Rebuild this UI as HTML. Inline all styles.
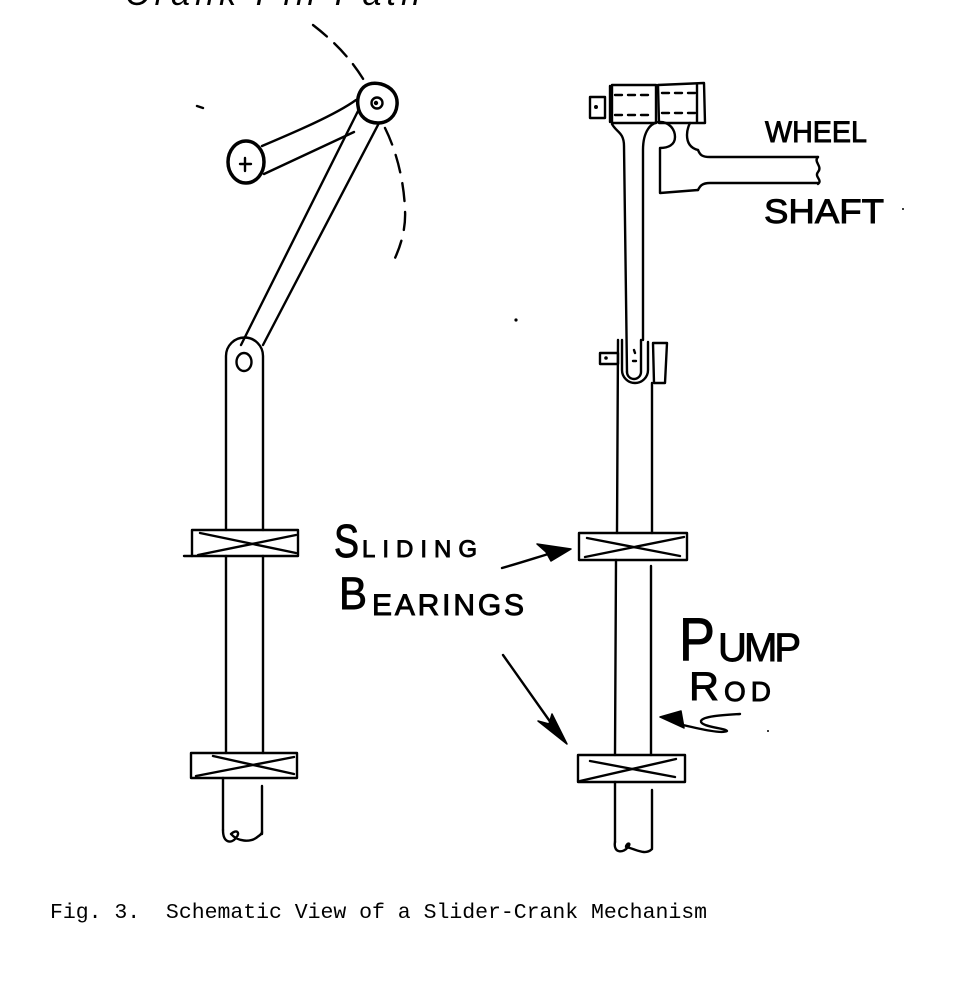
<!DOCTYPE html>
<html>
<head>
<meta charset="utf-8">
<style>
  html, body { margin: 0; padding: 0; background: #fff; }
  body { width: 974px; height: 994px; overflow: hidden; }
  svg { display: block; }
  .ink { fill: none; stroke: #000; stroke-width: 2.4; stroke-linecap: round; stroke-linejoin: round; }
  .thick { fill: none; stroke: #000; stroke-width: 3.5; stroke-linecap: round; stroke-linejoin: round; }
  .hand { font-family: "Liberation Sans", sans-serif; fill: #000; stroke: #000; stroke-width: 0.9; }
</style>
</head>
<body>
<svg width="974" height="994" viewBox="0 0 974 994" xmlns="http://www.w3.org/2000/svg">

  <!-- clipped handwritten label at top -->
  <text x="125" y="5" font-family="'Liberation Sans', sans-serif" font-size="34" font-style="italic" textLength="295" lengthAdjust="spacing" fill="#000">Crank Pin Path</text>

  <!-- ============ LEFT VIEW ============ -->
  <path class="ink" stroke-width="2.5" stroke-dasharray="18,10" d="M313,25 C335,42 352,60 365,82"/>
  <path class="ink" stroke-width="2.5" stroke-dasharray="18,11" d="M385,128 C396,150 404,180 405,210 C406,228 401,245 395,258"/>

  <path class="ink" stroke-width="2.5" d="M197,106 L203,108"/>

  <!-- crank disk -->
  <ellipse class="thick" cx="246" cy="162" rx="18" ry="21"/>
  <path class="ink" stroke-width="2" d="M240,164 L251,164 M245,158 L245,171"/>

  <!-- crank arm -->
  <path class="ink" d="M262,146 C295,132 335,115 356,100"/>
  <path class="ink" d="M264,174 C298,158 330,143 354,132"/>

  <!-- crank pin -->
  <path class="thick" d="M360,92 C364,84 372,82 381,84 C392,87 398,95 397,105 C396,116 388,123 378,123 C367,123 359,116 358,106 C357,100 358,96 360,92 Z"/>
  <circle class="ink" cx="377" cy="103" r="5.5"/>
  <circle cx="376" cy="103" r="2.2" fill="#000"/>

  <!-- connecting rod -->
  <path class="ink" d="M358,111 L241,345"/>
  <path class="ink" d="M379,123 L263,345"/>

  <!-- pump rod top with hole -->
  <path class="ink" d="M226,530 L226,356 A18.5,18.5 0 0 1 263,356 L263,530"/>
  <ellipse class="ink" cx="244" cy="362" rx="7.5" ry="9"/>

  <!-- bearing 1 left -->
  <rect class="ink" x="192" y="530" width="106" height="26"/>
  <path class="ink" d="M184,556 L192,556"/>
  <path class="ink" d="M200,533 L296,553"/>
  <path class="ink" stroke-width="2.8" d="M198,555 L296,535"/>

  <path class="ink" d="M226,556 L226,753 M263,556 L263,753"/>

  <!-- bearing 2 left -->
  <rect class="ink" x="191" y="753" width="106" height="25"/>
  <path class="ink" d="M213,756 L294,774"/>
  <path class="ink" stroke-width="2.8" d="M196,776 L294,757"/>

  <path class="ink" d="M223,778 L223,830 M262,786 L262,834"/>
  <path class="ink" d="M223,830 C223,843 231,844 236,838 C241,832 236,829 231,834 C238,842 250,842 256,838 C260,835 262,834 262,832"/>

  <!-- ============ RIGHT VIEW ============ -->
  <rect class="ink" x="612" y="85" width="44" height="38"/>
  <path class="ink" stroke-width="4" d="M610,86 L610,122"/>
  <rect class="ink" x="590" y="97" width="15" height="21"/>
  <circle cx="596" cy="107" r="2" fill="#000"/>
  <path class="ink" stroke-dasharray="7,6" d="M615,95 L653,95 M615,115 L653,115"/>

  <path class="ink" d="M658,85 L704,83 L705,123 L659,123 Z"/>
  <path class="ink" d="M697,84 L697,122"/>
  <path class="ink" stroke-dasharray="7,6" d="M662,93 L695,93 M662,113 L695,113"/>

  <path class="ink" d="M612,124 C616,132 624,132 624,146 L627,372"/>
  <path class="ink" d="M643,340 L643,150 C643,131 651,122 660,122 C669,122 675,129 675,137 C675,145 668,148 660,148 L660,193 L698,190"/>
  <path class="ink" d="M698,150 C690,148 687,142 687,135 C687,129 689,125 690,123"/>
  <path class="ink" d="M641,340 L641,372 A7,7 0 0 1 627,372"/>

  <!-- wheel shaft -->
  <path class="ink" d="M698,150 C700,155 702,157 710,157 L818,157"/>
  <path class="ink" d="M698,190 C700,186 702,183 710,183 L818,183"/>
  <path class="ink" d="M818,157 C813,162 823,166 818,172 C814,177 823,180 818,184"/>

  <!-- clevis -->
  <path class="ink" d="M622,340 L622,370 A13,13 0 0 0 648,370 L648,342"/>
  <path class="ink" d="M653,343 L667,343 L665,383 L654,383 Z"/>
  <rect class="ink" x="600" y="353" width="18" height="11"/>
  <circle cx="606" cy="358" r="1.8" fill="#000"/>
  <path class="ink" d="M634,350 L635,353 M633,361 L636,361"/>

  <path class="ink" d="M618,340 L617,533"/>
  <path class="ink" d="M652,383 L652,533"/>

  <!-- bearing 1 right -->
  <rect class="ink" x="579" y="533" width="108" height="27"/>
  <path class="ink" d="M587,538 L680,556"/>
  <path class="ink" stroke-width="2.6" d="M585,557 L684,537"/>

  <path class="ink" d="M616,560 L615,755 M651,566 L651,755"/>

  <!-- bearing 2 right -->
  <rect class="ink" x="578" y="755" width="107" height="27"/>
  <path class="ink" d="M590,761 L675,777"/>
  <path class="ink" stroke-width="2.6" d="M580,781 L676,759"/>

  <path class="ink" d="M615,782 L615,842 M652,790 L652,848"/>
  <path class="ink" d="M615,842 C613,854 624,853 628,847 C632,842 626,843 626,847 C636,849 645,856 652,849"/>

  <!-- ============ LABELS ============ -->
  <text class="hand" x="765" y="142" font-size="30" textLength="102" lengthAdjust="spacingAndGlyphs">WHEEL</text>
  <text class="hand" x="764" y="223" font-size="34" textLength="120" lengthAdjust="spacingAndGlyphs">SHAFT</text>

  <text class="hand" x="334" y="557" font-size="46" textLength="25" lengthAdjust="spacingAndGlyphs">S</text>
  <text class="hand" x="362" y="557" font-size="24" textLength="115" lengthAdjust="spacing">LIDING</text>

  <text class="hand" x="339" y="609" font-size="45" textLength="28" lengthAdjust="spacingAndGlyphs">B</text>
  <text class="hand" x="372" y="615" font-size="30" textLength="152" lengthAdjust="spacing">EARINGS</text>

  <text class="hand" x="679" y="660" font-size="60" textLength="36" lengthAdjust="spacingAndGlyphs">P</text>
  <text class="hand" x="718" y="661" font-size="40" textLength="83" lengthAdjust="spacing">UMP</text>

  <text class="hand" x="689" y="700" font-size="40" textLength="30" lengthAdjust="spacingAndGlyphs">R</text>
  <text class="hand" x="724" y="701" font-size="28" textLength="47" lengthAdjust="spacing">OD</text>

  <!-- arrows -->
  <path class="ink" stroke-width="3" d="M502,568 C520,563 535,558 555,552"/>
  <polygon points="571,549 537,544 546,552 551,561" fill="#000" stroke="#000" stroke-width="1.5" stroke-linejoin="round"/>

  <path class="ink" stroke-width="2.4" d="M503,655 L556,730"/>
  <polygon points="567,744 538,721 549,724 552,714" fill="#000" stroke="#000" stroke-width="1.5" stroke-linejoin="round"/>

  <polygon points="660,717 681,711 684,728" fill="#000" stroke="#000" stroke-width="1.5" stroke-linejoin="round"/>
  <path class="ink" stroke-width="2.6" d="M740,714 C725,715 703,716 701,721 C700,727 726,728 727,731 C722,734 700,729 683,725"/>

  <circle cx="516" cy="320" r="1.6" fill="#000"/>
  <circle cx="903" cy="209" r="1" fill="#000"/>
  <circle cx="768" cy="731" r="1" fill="#000"/>

  <!-- caption -->
  <text x="50" y="918" font-family="'Liberation Mono', monospace" font-size="21.5" textLength="657" lengthAdjust="spacing" fill="#000" xml:space="preserve">Fig. 3.  Schematic View of a Slider-Crank Mechanism</text>
</svg>
</body>
</html>
